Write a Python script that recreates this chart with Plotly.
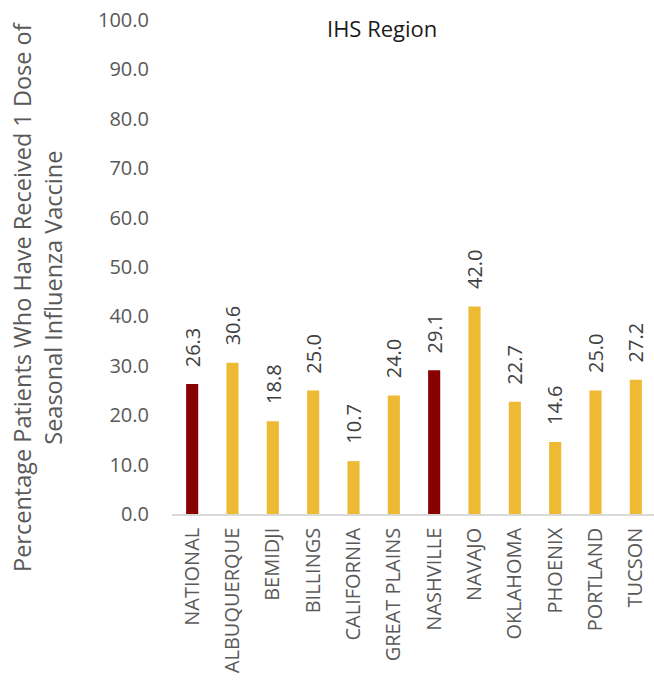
import plotly.graph_objects as go

categories = ["NATIONAL", "ALBUQUERQUE", "BEMIDJI", "BILLINGS", "CALIFORNIA",
              "GREAT PLAINS", "NASHVILLE", "NAVAJO", "OKLAHOMA", "PHOENIX",
              "PORTLAND", "TUCSON"]
values = [26.3, 30.6, 18.8, 25.0, 10.7, 24.0, 29.1, 42.0, 22.7, 14.6, 25.0, 27.2]
highlight = ["NATIONAL", "NASHVILLE"]

chart_title = "IHS Region"
y_title = "Percentage Patients Who Have Received 1 Dose of<br>Seasonal Influenza Vaccine"

DARK = "#880000"
GOLD = "#EFBA33"
FONT = "Open Sans"

colors = [DARK if c in highlight else GOLD for c in categories]

fig = go.Figure()
fig.add_trace(go.Bar(
    x=categories, y=values,
    marker=dict(color=colors, line=dict(width=0)),
    width=0.3,
    hoverinfo="x+y",
))

annotations = []
for c, v in zip(categories, values):
    annotations.append(dict(
        x=c, y=v, xref="x", yref="y",
        text=f"{v:.1f}", textangle=-90,
        showarrow=False, xanchor="center", yanchor="bottom", yshift=15,
        font=dict(family=FONT, size=20, color="#404040"),
    ))

annotations.append(dict(
    x=(382 - 172) / 482, y=(684 - 28 - 170) / 494, xref="paper", yref="paper",
    text=chart_title, showarrow=False, xanchor="center", yanchor="middle",
    font=dict(family=FONT, size=22, color="#1a1a1a"),
))
annotations.append(dict(
    x=(37 - 172) / 482, y=(684 - 297 - 170) / 494, xref="paper", yref="paper",
    text=y_title, textangle=-90, showarrow=False,
    xanchor="center", yanchor="middle",
    font=dict(family=FONT, size=23.5, color="#595959"),
))

fig.update_layout(
    width=654, height=684, autosize=False,
    margin=dict(l=172, r=0, t=20, b=170),
    paper_bgcolor="white", plot_bgcolor="white",
    showlegend=False,
    annotations=annotations,
    font=dict(family=FONT, color="#595959"),
)
fig.update_xaxes(
    range=[-0.5, 11.45], tickangle=-90,
    showline=True, linecolor="#D9D9D9", linewidth=1.5,
    showgrid=False, ticks="", ticklabelstandoff=4,
    tickfont=dict(family=FONT, size=20, color="#595959"),
)
fig.update_yaxes(
    range=[0, 100], dtick=10, tickformat=".1f",
    showline=False, showgrid=False, zeroline=False, ticks="",
    ticklabelstandoff=22,
    tickfont=dict(family=FONT, size=20, color="#595959"),
)

fig.write_html(
    "out.html",
    config={"displayModeBar": False},
    post_script="document.body.style.margin='0';document.body.style.overflow='hidden';",
)
